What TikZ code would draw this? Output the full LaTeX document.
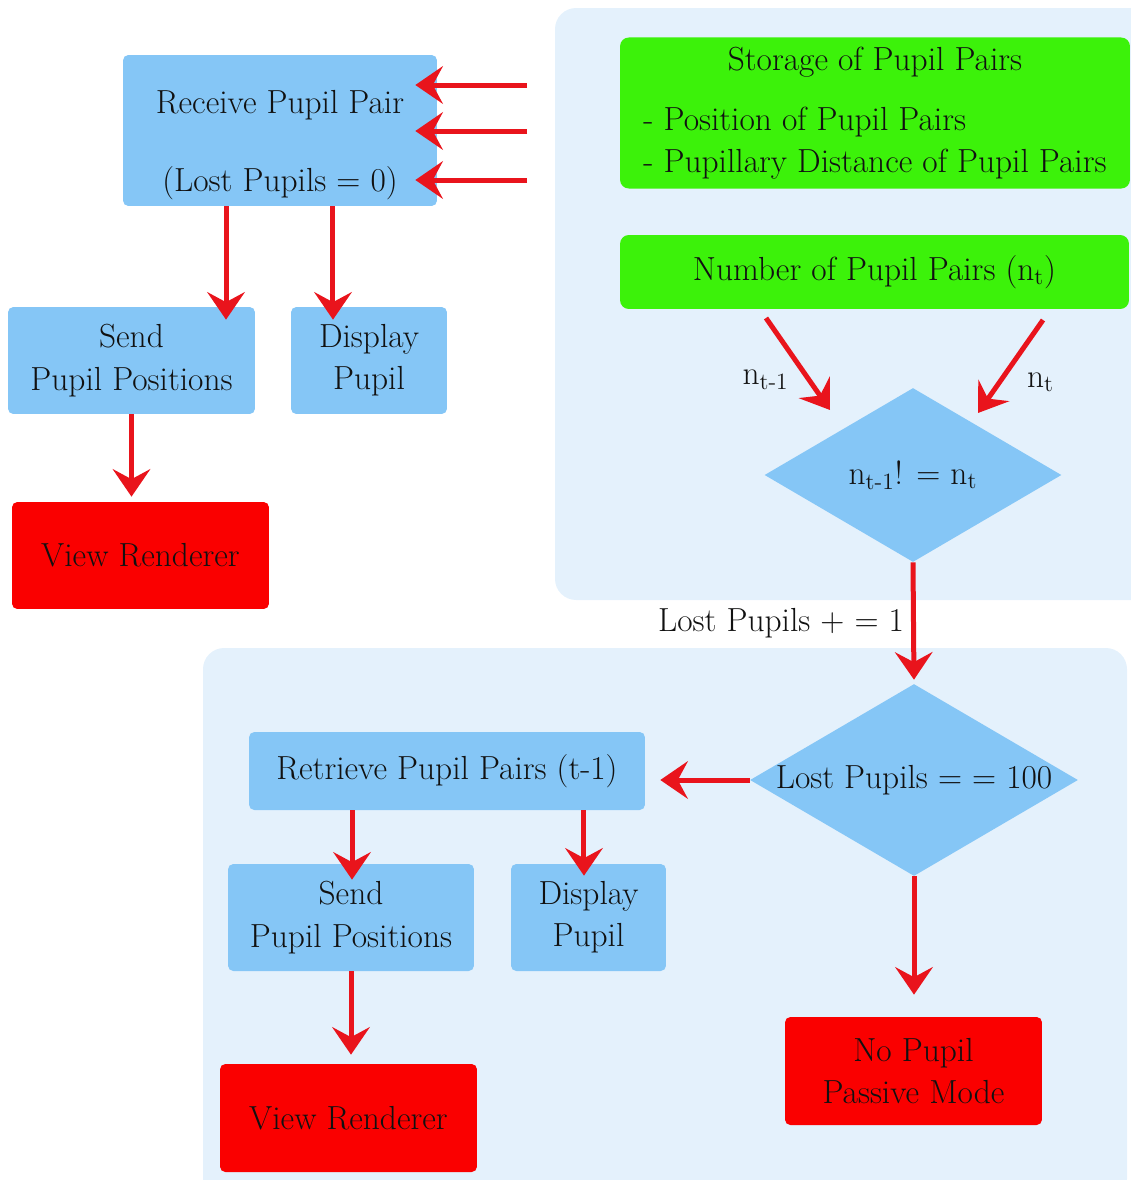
\documentclass[tikz,border=0pt]{standalone}
\usepackage{xcolor}
\definecolor{panelBlue}{HTML}{E4F1FC}
\definecolor{boxBlue}{HTML}{85C6F6}
\definecolor{storeGreen}{HTML}{3CF20A}
\definecolor{endRed}{HTML}{FA0000}
\definecolor{arrowRed}{HTML}{E9141C}
\definecolor{darkText}{HTML}{111111}
\usepackage{tikz}
\usetikzlibrary{
    shapes.geometric,
    arrows.meta,
    positioning,
    calc
}
\tikzset{
    % Base style for all boxes
    flat base/.style={
        font=\rmfamily\fontsize{19}{24}\selectfont,
        align=center,
        text=darkText,
        inner sep=2pt,
    },
    % Process boxes - light blue
    process/.style={
        flat base,
        rectangle,
        rounded corners=3pt,
        fill=boxBlue,
    },
    % Storage boxes - bright green
    storage/.style={
        flat base,
        rectangle,
        rounded corners=5pt,
        fill=storeGreen,
    },
    % Output boxes - plain red
    output/.style={
        flat base,
        rectangle,
        rounded corners=3pt,
        fill=endRed,
    },
    % Decision diamond - light blue
    decision/.style={
        flat base,
        diamond,
        fill=boxBlue,
        inner sep=0pt,
    },
    % Background panels
    panel/.style={
        fill=panelBlue,
        rounded corners=12pt,
    },
    % Red arrow with swept head
    arrow/.style={
        -{Stealth[length=5.5mm, width=7.5mm, inset=2mm]},
        line width=1mm,
        draw=arrowRed,
    },
    % Label style next to arrows
    edge label/.style={
        font=\rmfamily\fontsize{19}{24}\selectfont,
        text=darkText,
        inner sep=2pt,
    },
}

\begin{document}
\begin{tikzpicture}[x=0.02cm, y=-0.02cm]
    \useasboundingbox (0,0) rectangle (1131,1180);

    % background panels
    \fill [panel] (555,8) rectangle (1160,600);
    \fill [panel] (203,648) rectangle (1127,1200);

    % left column
    \node (recv) [process, minimum width=6.28cm, minimum height=3.02cm] at (280,130.5)
        {\rule{0pt}{1.05cm}Receive Pupil Pair\\[0.7cm](Lost Pupils = 0)};
    \node (send1) [process, minimum width=4.94cm, minimum height=2.14cm] at (131.5,360.5)
        {Send\\Pupil Positions};
    \node (disp1) [process, minimum width=3.12cm, minimum height=2.14cm] at (369,360.5)
        {Display\\Pupil};
    \node (view1) [output, minimum width=5.14cm, minimum height=2.14cm] at (140.5,555.5)
        {View Renderer};

    % storage panel
    \node (store) [storage, minimum width=10.2cm, minimum height=3cm] at (875,113)
        {\begin{tabular}{@{}l@{}}
            \multicolumn{1}{@{}c@{}}{Storage of Pupil Pairs}\\[0.35cm]
            - Position of Pupil Pairs\\
            - Pupillary Distance of Pupil Pairs
        \end{tabular}};
    \node (num) [storage, minimum width=10.18cm, minimum height=1.48cm] at (874.5,272)
        {Number of Pupil Pairs (n\textsubscript{t})};
    \node (dec1) [decision, minimum width=5.94cm, minimum height=3.48cm] at (913,475)
        {n\textsubscript{t-1}! = n\textsubscript{t}};
    \coordinate (nprev) at (766,318);
    \coordinate (ncur) at (1043,320);

    % lower panel
    \node (dec2) [decision, minimum width=6.56cm, minimum height=3.84cm] at (914,780)
        {\makebox[0pt]{Lost Pupils = = 100}};
    \node (retr) [process, minimum width=7.92cm, minimum height=1.56cm] at (447,771)
        {Retrieve Pupil Pairs (t-1)};
    \node (send2) [process, minimum width=4.92cm, minimum height=2.14cm] at (351,917.5)
        {Send\\Pupil Positions};
    \node (disp2) [process, minimum width=3.1cm, minimum height=2.14cm] at (588.5,917.5)
        {Display\\Pupil};
    \node (view2) [output, minimum width=5.14cm, minimum height=2.16cm] at (348.5,1118)
        {View Renderer};
    \node (nopupil) [output, minimum width=5.14cm, minimum height=2.16cm] at (913.5,1071)
        {No Pupil\\Passive Mode};

    % incoming pupil pairs
    \coordinate (in1) at (527,85);
    \coordinate (in2) at (527,131);
    \coordinate (in3) at (527,180);
    \draw [arrow, shorten >=-4.4mm] (in1) -- (in1 -| recv.east);
    \draw [arrow, shorten >=-4.4mm] (in2) -- (in2 -| recv.east);
    \draw [arrow, shorten >=-4.4mm] (in3) -- (in3 -| recv.east);

    \draw [arrow, shorten >=-2.6mm] ([xshift=-1.08cm]recv.south) -- ([xshift=-1.08cm]recv.south |- send1.north);
    \draw [arrow, shorten >=-2.6mm] ([xshift=1.06cm]recv.south) -- ([xshift=1.06cm]recv.south |- disp1.north);
    \draw [arrow, shorten >=1mm] (send1.south) -- (send1.south |- view1.north);

    \draw [arrow] (nprev) -- node (nprevlbl) [edge label, below left=0pt and 2pt] {n\textsubscript{t-1}} ([shift={(-83,-65)}]dec1.center);
    \draw [arrow] (ncur) -- node (ncurlbl) [edge label, below right=0pt and 6pt] {n\textsubscript{t}} ([shift={(65,-62)}]dec1.center);

    \draw [arrow, shorten >=0.8mm] (dec1.south) -- node (lostlbl) [edge label, left=2pt] {Lost Pupils + = 1} (dec2.north);
    \draw [arrow, shorten >=3mm] (dec2.west) -- (dec2.west -| retr.east);
    \draw [arrow, shorten >=-3.2mm] ([xshift=-1.9cm]retr.south) -- ([xshift=-1.9cm]retr.south |- send2.north);
    \draw [arrow, shorten >=-2.4mm] ([xshift=2.74cm]retr.south) -- ([xshift=2.74cm]retr.south |- disp2.north);
    \draw [arrow, shorten >=1.8mm] (send2.south) -- (send2.south |- view2.north);
    \draw [arrow, shorten >=4.4mm] (dec2.south) -- (dec2.south |- nopupil.north);
\end{tikzpicture}
\end{document}
